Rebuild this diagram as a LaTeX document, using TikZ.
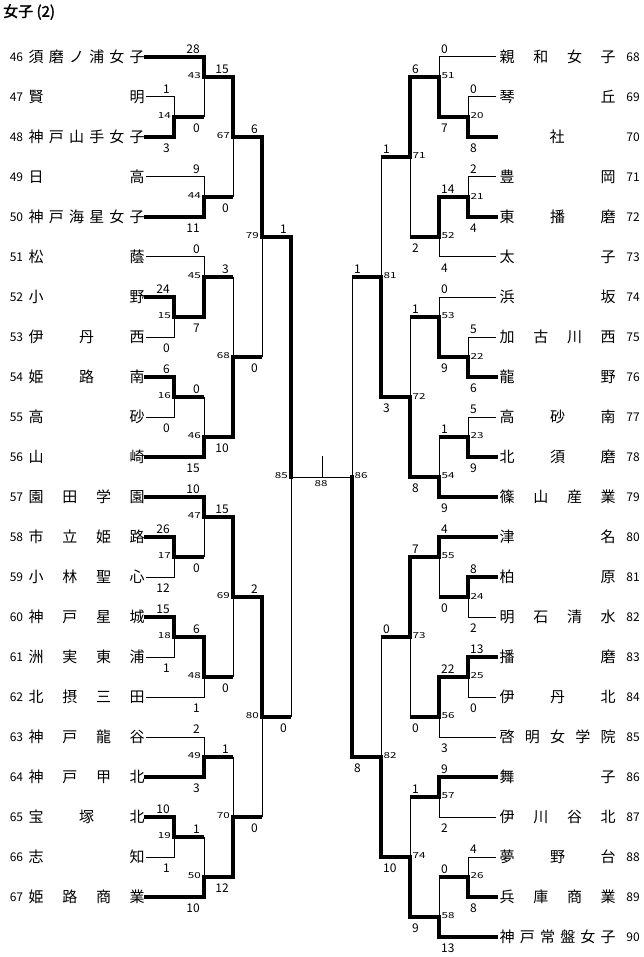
\documentclass[tikz,border=0pt]{standalone}
\usepackage{fontspec}
\setmainfont{Noto Sans CJK JP}
\newfontfamily\mfont[FakeStretch=1.4]{Noto Sans CJK JP}
\newfontfamily\tfont[FakeBold=2]{Noto Sans CJK JP}
\def\spreadloop#1{\ifx#1\relax\else\hfill#1\expandafter\spreadloop\fi}
\def\spreadfirst#1{#1\spreadloop}
\newcommand\spreadm[1]{\expandafter\spreadfirst#1\relax}
\newcommand\mwin[2]{\draw[win] (#1) -| (#2);}
\newcommand\mloseT[2]{\draw[lose] (#1) -| (#2);}
\newcommand\mloseM[2]{\draw[wout] (#1) -- (#1 -| #2); \draw[lose] (#1 -| #2) -- (#2);}
\newcommand\scoreat[4]{\node[#3] (s#1#2) at (#1 -| #2) {#4};}
\newcommand\mlabL[1]{\node[mlab,anchor=east,xshift=-3pt,yshift=1pt] (l#1) at (m#1) {#1};}
\newcommand\mlabR[1]{\node[mlab,anchor=west,xshift=2.5pt,yshift=1pt] (l#1) at (m#1) {#1};}
\begin{document}
\begin{tikzpicture}[x=1pt,y=-1pt,
  win/.style={line width=4pt,line cap=rect,line join=miter},
  wout/.style={line width=4pt},
  lose/.style={line width=1pt},
  score/.style={font=\fontsize{12}{12}\selectfont,inner sep=0pt},
  mlab/.style={font=\fontsize{8.3}{8.3}\mfont,inner sep=0pt},
  tnum/.style={font=\fontsize{12}{12}\selectfont,inner sep=0pt},
  tname/.style={font=\fontsize{15}{15}\selectfont,inner sep=0pt},
  scla/.style={score,anchor=east,xshift=-4pt,yshift=8pt},
  sclb/.style={score,anchor=east,xshift=-4pt,yshift=-11pt},
  scra/.style={score,anchor=west,xshift=2pt,yshift=8pt},
  scrb/.style={score,anchor=west,xshift=2pt,yshift=-11pt}]
\useasboundingbox (0,0) rectangle (643,957);
\node[anchor=west,font=\fontsize{15}{15}\tfont,inner sep=0pt] (title) at (3,12) {女子 (2)};
% teams
\foreach \n in {46,...,67} {
  \coordinate (t\n) at (146,{57+40*(\n-46)});
  \node[tnum] (nb\n) at (16.5,{57+40*(\n-46)}) {\n};
}
\foreach \n in {68,...,90} {
  \coordinate (t\n) at (496,{57+40*(\n-68)});
  \node[tnum] (nb\n) at (633,{57+40*(\n-68)}) {\n};
}
\foreach \n/\s in {46/須磨ノ浦女子,47/賢明,48/神戸山手女子,49/日高,50/神戸海星女子,51/松蔭,52/小野,53/伊丹西,54/姫路南,55/高砂,56/山崎,57/園田学園,58/市立姫路,59/小林聖心,60/神戸星城,61/洲実東浦,62/北摂三田,63/神戸龍谷,64/神戸甲北,65/宝塚北,66/志知,67/姫路商業}
  \node[tname,anchor=west] (nm\n) at (28.5,{57+40*(\n-46)}) {\makebox[116pt][l]{\spreadm{\s}}};
\foreach \n/\s in {68/親和女子,69/琴丘,71/豊岡,72/東播磨,73/太子,74/浜坂,75/加古川西,76/龍野,77/高砂南,78/北須磨,79/篠山産業,80/津名,81/柏原,82/明石清水,83/播磨,84/伊丹北,85/啓明女学院,86/舞子,87/伊川谷北,88/夢野台,89/兵庫商業,90/神戸常盤女子}
  \node[tname,anchor=west] (nm\n) at (499.5,{57+40*(\n-68)}) {\makebox[116pt][l]{\spreadm{\s}}};
\node[tname] (nm70) at (557,137) {社};
% match points left
\coordinate (m14) at (174,117);
\coordinate (m15) at (174,317);
\coordinate (m16) at (174,397);
\coordinate (m17) at (174,557);
\coordinate (m18) at (174,637);
\coordinate (m19) at (174,837);
\coordinate (m43) at (204,77);
\coordinate (m44) at (204,197);
\coordinate (m45) at (204,277);
\coordinate (m46) at (204,437);
\coordinate (m47) at (204,517);
\coordinate (m48) at (204,677);
\coordinate (m49) at (204,757);
\coordinate (m50) at (204,877);
\coordinate (m67) at (233,137);
\coordinate (m68) at (233,357);
\coordinate (m69) at (233,597);
\coordinate (m70) at (233,817);
\coordinate (m79) at (262,237);
\coordinate (m80) at (262,717);
\coordinate (m85) at (291,477);
% match points right
\coordinate (m20) at (468,117);
\coordinate (m21) at (468,197);
\coordinate (m22) at (468,357);
\coordinate (m23) at (468,437);
\coordinate (m24) at (468,597);
\coordinate (m25) at (468,677);
\coordinate (m26) at (468,877);
\coordinate (m51) at (439,77);
\coordinate (m52) at (439,237);
\coordinate (m53) at (439,317);
\coordinate (m54) at (439,477);
\coordinate (m55) at (439,557);
\coordinate (m56) at (439,717);
\coordinate (m57) at (439,797);
\coordinate (m58) at (439,917);
\coordinate (m71) at (410,157);
\coordinate (m72) at (410,397);
\coordinate (m73) at (410,637);
\coordinate (m74) at (410,857);
\coordinate (m81) at (381,277);
\coordinate (m82) at (381,757);
\coordinate (m86) at (352,477);
\coordinate (m88) at (322,477);
\coordinate (m88top) at (322,456);
% left bracket
\mloseT{t47}{m14} \mwin{t48}{m14}
\mwin{t52}{m15} \mloseT{t53}{m15}
\mwin{t54}{m16} \mloseT{t55}{m16}
\mwin{t58}{m17} \mloseT{t59}{m17}
\mwin{t60}{m18} \mloseT{t61}{m18}
\mwin{t65}{m19} \mloseT{t66}{m19}
\mwin{t46}{m43} \mloseM{m14}{m43}
\mloseT{t49}{m44} \mwin{t50}{m44}
\mloseT{t51}{m45} \mwin{m15}{m45}
\mloseM{m16}{m46} \mwin{t56}{m46}
\mwin{t57}{m47} \mloseM{m17}{m47}
\mwin{m18}{m48} \mloseT{t62}{m48}
\mloseT{t63}{m49} \mwin{t64}{m49}
\mloseM{m19}{m50} \mwin{t67}{m50}
\mwin{m43}{m67} \mloseM{m44}{m67}
\mloseM{m45}{m68} \mwin{m46}{m68}
\mwin{m47}{m69} \mloseM{m48}{m69}
\mloseM{m49}{m70} \mwin{m50}{m70}
\mwin{m67}{m79} \mloseM{m68}{m79}
\mwin{m69}{m80} \mloseM{m70}{m80}
\mwin{m79}{m85} \mloseM{m80}{m85}
% right bracket
\mloseT{t69}{m20} \mwin{t70}{m20}
\mloseT{t71}{m21} \mwin{t72}{m21}
\mloseT{t75}{m22} \mwin{t76}{m22}
\mloseT{t77}{m23} \mwin{t78}{m23}
\mwin{t81}{m24} \mloseT{t82}{m24}
\mwin{t83}{m25} \mloseT{t84}{m25}
\mloseT{t88}{m26} \mwin{t89}{m26}
\mloseT{t68}{m51} \mwin{m20}{m51}
\mwin{m21}{m52} \mloseT{t73}{m52}
\mloseT{t74}{m53} \mwin{m22}{m53}
\mloseM{m23}{m54} \mwin{t79}{m54}
\mwin{t80}{m55} \mloseM{m24}{m55}
\mwin{m25}{m56} \mloseT{t85}{m56}
\mwin{t86}{m57} \mloseT{t87}{m57}
\mloseM{m26}{m58} \mwin{t90}{m58}
\mwin{m51}{m71} \mloseM{m52}{m71}
\mloseM{m53}{m72} \mwin{m54}{m72}
\mwin{m55}{m73} \mloseM{m56}{m73}
\mloseM{m57}{m74} \mwin{m58}{m74}
\mloseM{m71}{m81} \mwin{m72}{m81}
\mloseM{m73}{m82} \mwin{m74}{m82}
\mloseM{m81}{m86} \mwin{m82}{m86}
% final
\draw[lose] (m85) -- (m86);
\draw[lose] (m88top) -- (m88);
\node[mlab] (l88) at (321,484) {88};
% match labels
\foreach \k in {14,15,16,17,18,19,43,44,45,46,47,48,49,50,67,68,69,70,79,80,85} {\mlabL{\k}}
\foreach \k in {20,21,22,23,24,25,26,51,52,53,54,55,56,57,58,71,72,73,74,81,82,86} {\mlabR{\k}}
% scores left
\scoreat{t47}{m14}{scla}{1} \scoreat{t48}{m14}{sclb}{3}
\scoreat{t52}{m15}{scla}{24} \scoreat{t53}{m15}{sclb}{0}
\scoreat{t54}{m16}{scla}{6} \scoreat{t55}{m16}{sclb}{0}
\scoreat{t58}{m17}{scla}{26} \scoreat{t59}{m17}{sclb}{12}
\scoreat{t60}{m18}{scla}{15} \scoreat{t61}{m18}{sclb}{1}
\scoreat{t65}{m19}{scla}{10} \scoreat{t66}{m19}{sclb}{1}
\scoreat{t46}{m43}{scla}{28} \scoreat{m14}{m43}{sclb}{0}
\scoreat{t49}{m44}{scla}{9} \scoreat{t50}{m44}{sclb}{11}
\scoreat{t51}{m45}{scla}{0} \scoreat{m15}{m45}{sclb}{7}
\scoreat{m16}{m46}{scla}{0} \scoreat{t56}{m46}{sclb}{15}
\scoreat{t57}{m47}{scla}{10} \scoreat{m17}{m47}{sclb}{0}
\scoreat{m18}{m48}{scla}{6} \scoreat{t62}{m48}{sclb}{1}
\scoreat{t63}{m49}{scla}{2} \scoreat{t64}{m49}{sclb}{3}
\scoreat{m19}{m50}{scla}{1} \scoreat{t67}{m50}{sclb}{10}
\scoreat{m43}{m67}{scla}{15} \scoreat{m44}{m67}{sclb}{0}
\scoreat{m45}{m68}{scla}{3} \scoreat{m46}{m68}{sclb}{10}
\scoreat{m47}{m69}{scla}{15} \scoreat{m48}{m69}{sclb}{0}
\scoreat{m49}{m70}{scla}{1} \scoreat{m50}{m70}{sclb}{12}
\scoreat{m67}{m79}{scla}{6} \scoreat{m68}{m79}{sclb}{0}
\scoreat{m69}{m80}{scla}{2} \scoreat{m70}{m80}{sclb}{0}
\scoreat{m79}{m85}{scla}{1} \scoreat{m80}{m85}{sclb}{0}
% scores right
\scoreat{t69}{m20}{scra}{0} \scoreat{t70}{m20}{scrb}{8}
\scoreat{t71}{m21}{scra}{2} \scoreat{t72}{m21}{scrb}{4}
\scoreat{t75}{m22}{scra}{5} \scoreat{t76}{m22}{scrb}{6}
\scoreat{t77}{m23}{scra}{5} \scoreat{t78}{m23}{scrb}{9}
\scoreat{t81}{m24}{scra}{8} \scoreat{t82}{m24}{scrb}{2}
\scoreat{t83}{m25}{scra}{13} \scoreat{t84}{m25}{scrb}{0}
\scoreat{t88}{m26}{scra}{4} \scoreat{t89}{m26}{scrb}{8}
\scoreat{t68}{m51}{scra}{0} \scoreat{m20}{m51}{scrb}{7}
\scoreat{m21}{m52}{scra}{14} \scoreat{t73}{m52}{scrb}{4}
\scoreat{t74}{m53}{scra}{0} \scoreat{m22}{m53}{scrb}{9}
\scoreat{m23}{m54}{scra}{1} \scoreat{t79}{m54}{scrb}{9}
\scoreat{t80}{m55}{scra}{4} \scoreat{m24}{m55}{scrb}{0}
\scoreat{m25}{m56}{scra}{22} \scoreat{t85}{m56}{scrb}{3}
\scoreat{t86}{m57}{scra}{9} \scoreat{t87}{m57}{scrb}{2}
\scoreat{m26}{m58}{scra}{0} \scoreat{t90}{m58}{scrb}{13}
\scoreat{m51}{m71}{scra}{6} \scoreat{m52}{m71}{scrb}{2}
\scoreat{m53}{m72}{scra}{1} \scoreat{m54}{m72}{scrb}{8}
\scoreat{m55}{m73}{scra}{7} \scoreat{m56}{m73}{scrb}{0}
\scoreat{m57}{m74}{scra}{1} \scoreat{m58}{m74}{scrb}{9}
\scoreat{m71}{m81}{scra}{1} \scoreat{m72}{m81}{scrb}{3}
\scoreat{m73}{m82}{scra}{0} \scoreat{m74}{m82}{scrb}{10}
\scoreat{m81}{m86}{scra}{1} \scoreat{m82}{m86}{scrb}{8}
\end{tikzpicture}
\end{document}
